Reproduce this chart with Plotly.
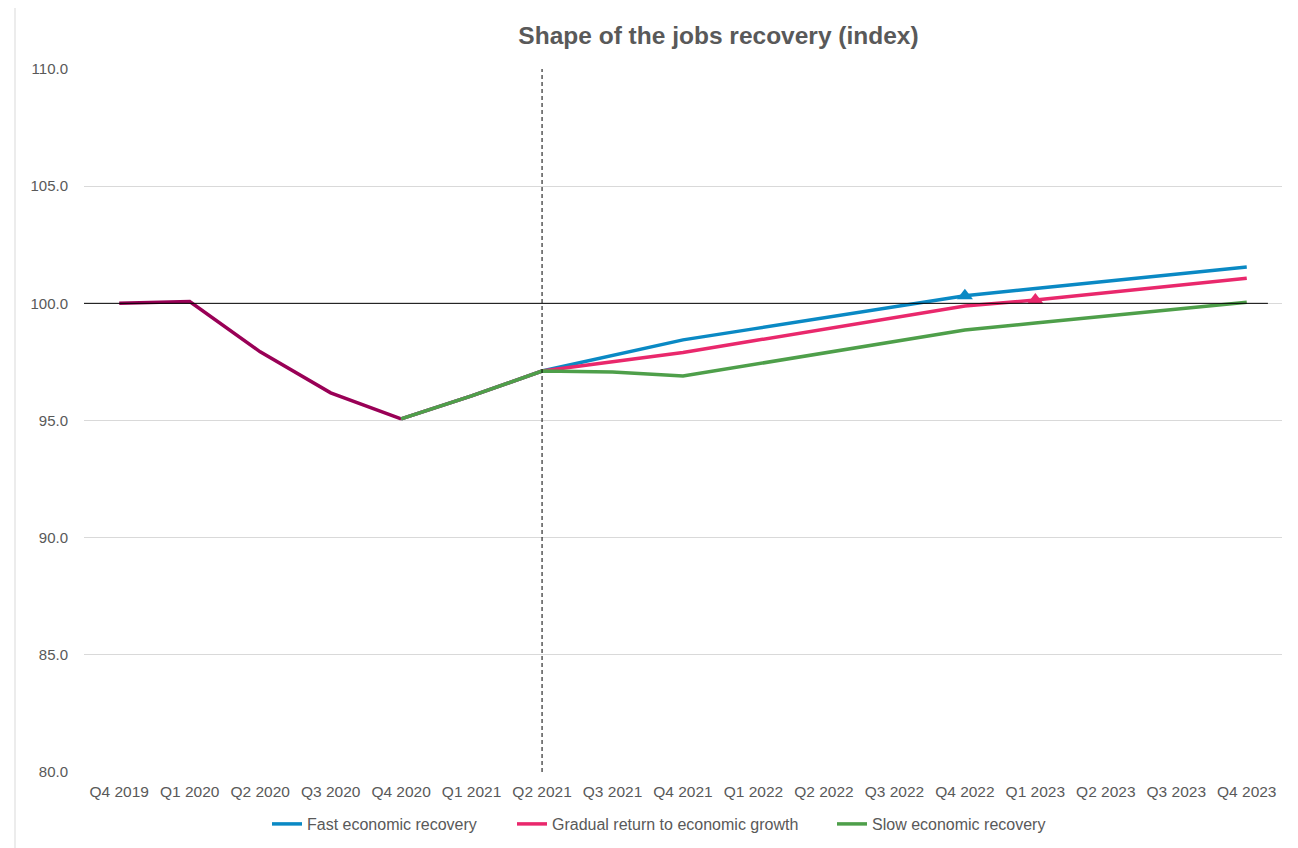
import plotly.graph_objects as go

# quarters on the x axis
quarters = ['Q4 2019', 'Q1 2020', 'Q2 2020', 'Q3 2020', 'Q4 2020', 'Q1 2021', 'Q2 2021',
            'Q3 2021', 'Q4 2021', 'Q1 2022', 'Q2 2022', 'Q3 2022', 'Q4 2022', 'Q1 2023',
            'Q2 2023', 'Q3 2023', 'Q4 2023']

# outturn, then the three scenarios
history = [100.0, 100.08, 97.93, 96.18, 95.07] + [None] * 12
fast = [None] * 4 + [95.07, 96.05, 97.11, 97.78, 98.44, 98.91, 99.38, 99.85, 100.32,
                     100.63, 100.94, 101.25, 101.55]
gradual = [None] * 4 + [95.07, 96.05, 97.11, 97.50, 97.90, 98.40, 98.90, 99.40, 99.89,
                        100.14, 100.45, 100.76, 101.07]
slow = [None] * 4 + [95.07, 96.05, 97.11, 97.07, 96.90, 97.39, 97.88, 98.37, 98.86,
                     99.16, 99.45, 99.75, 100.05]

# quarter where each scenario gets back above pre-crisis level
fast_back = 'Q4 2022'
gradual_back = 'Q1 2023'
forecast_start = 'Q2 2021'

y_ticks = [80, 85, 90, 95, 100, 105, 110]

blue = '#0A89C4'
pink = '#E9286C'
green = '#4E9F4A'
maroon = '#990056'
grey_text = '#595959'

# page body has an 8px margin, so the figure is 1290x840 and sits at (8, 8)
W, H = 1290, 840
L, T, PW, PH = 76, 61, 1198, 703

fig = go.Figure()

fig.add_trace(go.Scatter(x=quarters, y=history, mode='lines', line=dict(color=maroon, width=3.5),
                         showlegend=False, hoverinfo='skip'))
fig.add_trace(go.Scatter(x=quarters, y=fast, mode='lines', name='Fast economic recovery',
                         line=dict(color=blue, width=3.5), legend='legend'))
fig.add_trace(go.Scatter(x=quarters, y=gradual, mode='lines', name='Gradual return to economic growth',
                         line=dict(color=pink, width=3.5), legend='legend2'))
fig.add_trace(go.Scatter(x=quarters, y=slow, mode='lines', name='Slow economic recovery',
                         line=dict(color=green, width=3.5), legend='legend3'))

# triangle markers
fig.add_trace(go.Scatter(x=[fast_back], y=[fast[quarters.index(fast_back)]], mode='markers',
                         marker=dict(symbol='triangle-up', size=14, color=blue), showlegend=False))
fig.add_trace(go.Scatter(x=[gradual_back], y=[gradual[quarters.index(gradual_back)]], mode='markers',
                         marker=dict(symbol='triangle-up', size=14, color=pink), showlegend=False))

# 100 reference line and forecast divider
fig.add_shape(type='line', xref='x', yref='y', x0=-0.5, x1=16.3, y0=100, y1=100,
              line=dict(color='black', width=1))
fig.add_shape(type='line', xref='x', yref='y', x0=forecast_start, x1=forecast_start, y0=80, y1=110,
              line=dict(color='black', width=1, dash='4px,3px'))

# chart area border (left edge)
fig.add_shape(type='line', xref='paper', yref='paper', x0=(7 - L) / PW, x1=(7 - L) / PW,
              y0=-0.2, y1=1.2, line=dict(color='#D9D9D9', width=1), layer='below')

# legends in container coords so they don't push the bottom margin
leg = dict(orientation='h', xref='container', yref='container', yanchor='middle',
           y=1 - 816 / H, xanchor='left', font=dict(size=16, color=grey_text),
           bgcolor='rgba(0,0,0,0)')

fig.update_layout(
    width=W, height=H,
    margin=dict(l=L, r=W - L - PW, t=T, b=H - T - PH),
    paper_bgcolor='white', plot_bgcolor='white',
    font=dict(family='Liberation Sans, Arial', size=15, color=grey_text),
    title=dict(text='<b>Shape of the jobs recovery (index)</b>', x=710.5 / W, xanchor='center',
               y=1 - 27 / H, yanchor='middle', font=dict(size=24.5, color=grey_text)),
    legend=dict(leg, x=259 / W),
    legend2=dict(leg, x=504 / W),
    legend3=dict(leg, x=824 / W),
    showlegend=True,
)
fig.update_xaxes(type='category', showgrid=False, showline=False, zeroline=False, automargin=False,
                 ticks='', ticklabelstandoff=8, tickfont=dict(size=15.5, color=grey_text),
                 range=[-0.5, 16.5])
fig.update_yaxes(range=[80, 110], tickvals=y_ticks, tickformat='.1f', showgrid=True,
                 gridcolor='#D9D9D9', gridwidth=1, zeroline=False, showline=False, automargin=False,
                 ticks='', ticklabelstandoff=15, tickfont=dict(size=15, color=grey_text))

fig.write_html('out.html')
